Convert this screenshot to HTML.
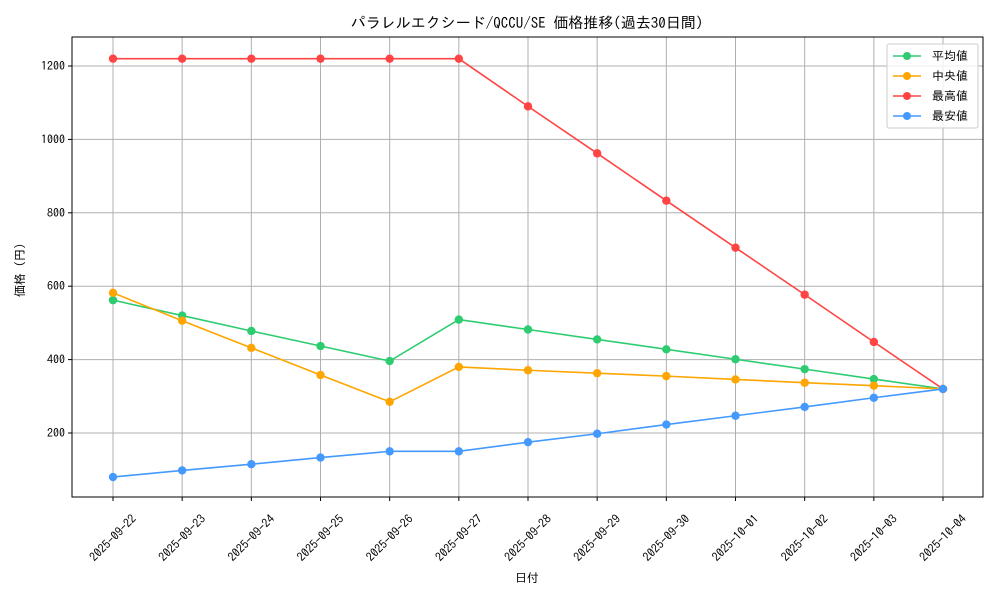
<!DOCTYPE html>
<html><head><meta charset="utf-8">
<style>
html,body{margin:0;padding:0;background:#fff;}
svg{display:block;font-family:"IPAGothic","Liberation Sans","Noto Sans CJK JP",sans-serif;}
</style></head>
<body>
<svg id="c" width="1000" height="600" xmlns="http://www.w3.org/2000/svg">
<rect width="1000" height="600" fill="#fff"/>
<text x="527" y="28" font-size="15" text-anchor="middle" fill="#000">パラレルエクシード/QCCU/SE 価格推移(過去30日間)</text>
<g id="grid"></g>
<rect x="72" y="37" width="911" height="460" fill="none" stroke="#000" stroke-width="1"/>
<g id="series"></g>
<text x="527" y="582" font-size="12" text-anchor="middle">日付</text>
<text x="24" y="267" font-size="12" text-anchor="middle" transform="rotate(-90 24 267)">価格（円）</text>
<g>
<rect x="887" y="44" width="91" height="84" fill="#fff" fill-opacity="0.8" stroke="#ccc" rx="2"/>
<line x1="893" y1="56" x2="921" y2="56" stroke="#2ecc71" stroke-width="1.5"/><circle cx="907" cy="56" r="4" fill="#2ecc71"/>
<text x="932" y="60" font-size="12">平均値</text>
<line x1="893" y1="76" x2="921" y2="76" stroke="#ffa500" stroke-width="1.5"/><circle cx="907" cy="76" r="4" fill="#ffa500"/>
<text x="932" y="80" font-size="12">中央値</text>
<line x1="893" y1="96" x2="921" y2="96" stroke="#ff4444" stroke-width="1.5"/><circle cx="907" cy="96" r="4" fill="#ff4444"/>
<text x="932" y="100" font-size="12">最高値</text>
<line x1="893" y1="116" x2="921" y2="116" stroke="#4499ff" stroke-width="1.5"/><circle cx="907" cy="116" r="4" fill="#4499ff"/>
<text x="932" y="120" font-size="12">最安値</text>
</g>
</svg>
<script>
var NS="http://www.w3.org/2000/svg";
function el(t,a,p,txt){var e=document.createElementNS(NS,t);for(var k in a)e.setAttribute(k,a[k]);if(txt!=null)e.textContent=txt;p.appendChild(e);return e;}
var X=function(i){return 113+i*69.1667};
var Y=function(v){return 433-(v-200)*0.367};
var g=document.getElementById('grid');
var dates=["2025-09-22","2025-09-23","2025-09-24","2025-09-25","2025-09-26","2025-09-27","2025-09-28","2025-09-29","2025-09-30","2025-10-01","2025-10-02","2025-10-03","2025-10-04"];
for(var i=0;i<13;i++){var x=X(i);
el('line',{x1:x,y1:37,x2:x,y2:497,stroke:'#b0b0b0','stroke-width':1},g);
el('line',{x1:x,y1:497,x2:x,y2:501,stroke:'#000'},g);
var cy=538;
el('text',{x:x,y:cy+4,'font-size':12,'text-anchor':'middle',transform:'rotate(-45 '+x+' '+cy+')'},g,dates[i]);}
for(var v=200;v<=1200;v+=200){var y=Y(v);
el('line',{x1:72,y1:y,x2:983,y2:y,stroke:'#b0b0b0','stroke-width':1},g);
el('line',{x1:68,y1:y,x2:72,y2:y,stroke:'#000'},g);
el('text',{x:65,y:y+4,'font-size':12,'text-anchor':'end'},g,v);}
var S=[
['#ff4444',[1220,1220,1220,1220,1220,1220,1090,962,833,705,577,448,320]],
['#2ecc71',[562,520,478,437,396,509,482,455,428,401,374,347,320]],
['#ffa500',[582,506,432,358,285,380,371,363,355,346,337,329,320]],
['#4499ff',[80,98,115,133,150,150,175,198,223,247,271,296,320]]];
var s=document.getElementById('series');
S.forEach(function(d){var pts=d[1].map(function(v,i){return X(i)+','+Y(v)}).join(' ');
el('polyline',{points:pts,fill:'none',stroke:d[0],'stroke-width':1.6},s);
d[1].forEach(function(v,i){el('circle',{cx:X(i),cy:Y(v),r:4.2,fill:d[0]},s);});});
</script>
</body></html>
